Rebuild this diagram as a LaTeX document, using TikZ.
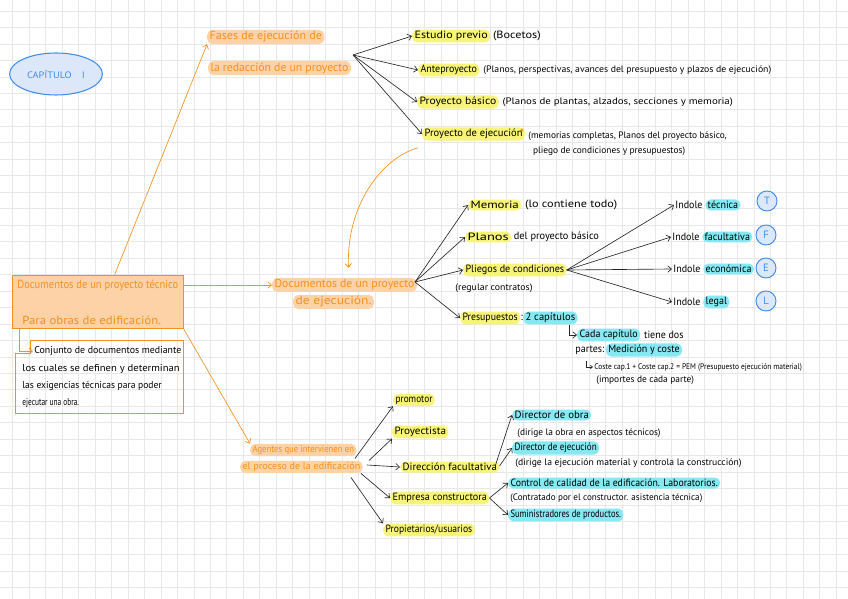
\documentclass[tikz,border=0pt]{standalone}
\usepackage{fontspec}
\setmainfont{PT Sans}
\usetikzlibrary{positioning,calc,shapes.geometric,arrows.meta}

\definecolor{gridgray}{HTML}{E8E8E8}
\definecolor{hlyellow}{HTML}{F8F47A}
\definecolor{hlcyan}{HTML}{86E8F2}
\definecolor{inkorange}{HTML}{F5901F}
\definecolor{hlorange}{HTML}{FDD2A6}
\definecolor{inkblue}{HTML}{3F8CEB}
\definecolor{fillblue}{HTML}{DCE8FA}

\newcommand\fsz[1]{\fontsize{#1}{#1}\selectfont}
\newcommand\mainsize{\fsz{9}}
\newcommand\notesize{\fsz{8}}
\newcommand\bigsize{\fsz{10}}
% horizontal stretch of handwritten-like labels
\newcommand\sx[2]{\scalebox{#1}[1]{#2}}

\tikzset{
  gridline/.style={gridgray, line width=0.6pt},
  hlbase/.style={rounded corners=4.5pt, inner xsep=2pt, inner ysep=1.4pt, anchor=west, font=\mainsize},
  yellowhl/.style={hlbase, fill=hlyellow},
  cyanhl/.style={hlbase, fill=hlcyan},
  orangehl/.style={hlbase, fill=hlorange, text=inkorange, font=\bigsize},
  plainlbl/.style={inner sep=1pt, anchor=west, font=\mainsize},
  notelbl/.style={inner sep=1pt, anchor=west, font=\notesize},
  desclbl/.style={inner sep=1pt, anchor=west, font=\fsz{8.5}},
  inkarrow/.style={-{Straight Barb[length=3.2pt,width=5.5pt]}, line width=0.55pt, black!85},
  orangearrow/.style={-{Straight Barb[length=3.2pt,width=5.5pt]}, line width=0.55pt, inkorange},
  lettercircle/.style={circle, draw=inkblue, fill=fillblue, line width=0.8pt, text=inkblue,
    minimum size=0.6cm, inner sep=0pt, font=\fontsize{9}{10}\selectfont},
  chapterellipse/.style={ellipse, draw=inkblue, fill=fillblue, line width=0.9pt, text=inkblue,
    minimum width=2.46cm, minimum height=1.26cm, font=\fontsize{8}{9}\selectfont}
}

\begin{document}
\begin{tikzpicture}[x=0.03cm,y=-0.03cm]
% paper and grid
\useasboundingbox (0,0) rectangle (848,599);
\fill[white] (0,0) rectangle (848,599);
\foreach \k in {0,...,50}
  \draw[gridline] ({12.7+16.47*\k},0) -- ({12.7+16.47*\k},599);
\foreach \k in {0,...,35}
  \draw[gridline] (0,{11+16.47*\k}) -- (848,{11+16.47*\k});

% Chapter title
\node[chapterellipse] (capitulo) at (56,74) {\sx{1.1}{CAPÍTULO\quad I}};

% Phases of the project
\node[orangehl] (fases) at (207,37) {\sx{1.03}{Fases de ejecución de}};
\node[orangehl] (redaccion) at (208,68) {la redacción de un proyecto};
\coordinate (fasesFan) at (353,55);

\node[yellowhl] (estudio) at (412,36) {\sx{1.14}{Estudio previo}};
\node[plainlbl, right=1pt of estudio] (estudioNote) {\sx{1.16}{(Bocetos)}};
\node[yellowhl] (antep) at (418,70) {\sx{0.95}{Anteproyecto}};
\node[notelbl, right=2pt of antep] (antepNote) {\sx{1.04}{(Planos, perspectivas, avances del presupuesto y plazos de ejecución)}};
\node[yellowhl] (basico) at (417,102) {\sx{1.1}{Proyecto básico}};
\node[notelbl, right=2pt of basico] (basicoNote) {\sx{1.16}{(Planos de plantas, alzados, secciones y memoria)}};
\node[yellowhl] (ejecucion) at (422,134) {Proyecto de ejecución};
\fill[inkorange] (522,130) circle (1.6);
\node[notelbl, anchor=north west, align=left, font=\fontsize{8}{13.5}\selectfont] (ejecNote) at (527,130)
  {(memorias completas, Planos del proyecto básico,\\\hspace*{4pt}pliego de condiciones y presupuestos)};

\draw[inkarrow] (fasesFan) -- (estudio.west);
\draw[inkarrow] (fasesFan) -- (antep.west);
\draw[inkarrow] (fasesFan) -- (basico.west);
\draw[inkarrow] (fasesFan) -- (ejecucion.west);

% Documents of a technical project
\node[draw=inkorange, fill=hlorange, line width=0.6pt, minimum width=5.13cm, minimum height=1.59cm,
  inner sep=0pt] (docTec) at (97.5,301.5) {};
\node[plainlbl, text=inkorange, font=\bigsize] (docTecA) at (16,285) {\sx{0.9}{Documentos de un proyecto técnico}};
\node[plainlbl, text=inkorange, font=\bigsize] (docTecB) at (21,320) {\sx{1.09}{Para obras de edificación.}};

\draw[orangearrow] ($(docTec.north west)!0.6!(docTec.north east)$) -- (fases.south west);

% Description
\draw[inkorange, line width=0.6pt] (30,340) -- (183,340) -- (183,413) -- (15,413) -- (15,353) -- (30,353) -- cycle;
\node[desclbl] (desc1) at (33,351) {\sx{0.99}{Conjunto de documentos mediante}};
\node[desclbl] (desc2) at (21,369) {\sx{1.07}{los cuales se definen y determinan}};
\node[desclbl] (desc3) at (21,386) {\sx{0.96}{las exigencias técnicas para poder}};
\node[desclbl] (desc4) at (21,403) {\sx{0.74}{ejecutar una obra.}};
\draw[orangearrow] ($(docTec.south west)+(8,0)$) |- (desc1.west);

% Documents of an execution project
\node[orangehl] (docEjecA) at (272,285) {Documentos de un proyecto};
\node[orangehl] (docEjecB) at (293,302) {\sx{1.16}{de ejecución.}};
\draw[orangearrow] (docTecA -| docTec.east) -- (docEjecA.west);
\draw[orangearrow] ($(ejecucion.south west)+(-4,7)$) .. controls (382,158) and (346,205) .. ($(docEjecA.north)+(4,-10)$);
\coordinate (docFan) at (415,282);

\node[yellowhl] (memoria) at (468,205) {\sx{1.22}{Memoria}};
\node[plainlbl, right=2pt of memoria] (memoriaNote) {\sx{1.16}{(lo contiene todo)}};
\node[yellowhl] (planos) at (465,237) {\sx{1.37}{Planos}};
\node[plainlbl, right=1pt of planos] (planosNote) {\sx{0.98}{del proyecto básico}};
\node[yellowhl] (pliegos) at (463,270) {\sx{0.96}{Pliegos de condiciones}};
\node[notelbl] (pliegosNote) at (454,288) {\sx{1.05}{(regular contratos)}};
\node[yellowhl] (presup) at (460,318) {\sx{0.93}{Presupuestos}};
\node[plainlbl, right=-1pt of presup] (presupColon) {:};
\node[cyanhl, right=-1pt of presupColon] (capitulos) {2 capítulos};

\draw[inkarrow] (docFan) -- (memoria.west);
\draw[inkarrow] (docFan) -- (planos.west);
\draw[inkarrow] (docFan) -- (pliegos.west);
\draw[inkarrow] (docFan) -- (presup.west);

% Kinds of conditions
\node[plainlbl] (indT) at (674,205) {\sx{0.95}{Indole}};
\node[cyanhl, right=1pt of indT] (tecnica) {\sx{0.95}{técnica}};
\node[plainlbl] (indF) at (671,237) {\sx{0.95}{Indole}};
\node[cyanhl, right=1pt of indF] (facultativa) {\sx{0.95}{facultativa}};
\node[plainlbl] (indE) at (672,269) {\sx{0.95}{Indole}};
\node[cyanhl, right=1pt of indE] (economica) {\sx{0.95}{económica}};
\node[plainlbl] (indL) at (672,302) {\sx{0.95}{Indole}};
\node[cyanhl, right=1pt of indL] (legal) {\sx{0.95}{legal}};

\node[lettercircle] (circT) at (767,201) {T};
\node[lettercircle] (circF) at (766,235) {F};
\node[lettercircle] (circE) at (766,268) {E};
\node[lettercircle] (circL) at (766,301) {L};

\draw[inkarrow] (pliegos.east) -- (indT.west);
\draw[inkarrow] (pliegos.east) -- (indF.west);
\draw[inkarrow] (pliegos.east) -- (indE.west);
\draw[inkarrow] (pliegos.east) -- (indL.west);

% Budget chapters
\node[cyanhl] (cadaCap) at (577,335) {\sx{0.95}{Cada capítulo}};
\node[plainlbl, right=2pt of cadaCap] (cadaNote) {\sx{0.95}{tiene dos}};
\node[plainlbl] (partes) at (574,350) {\sx{0.95}{partes:}};
\node[cyanhl, right=0pt of partes] (medicion) {\sx{0.95}{Medición y coste}};
\node[notelbl, font=\fsz{7}] (coste) at (593,367) {\sx{0.91}{Coste cap.1 + Coste cap.2 = PEM (Presupuesto ejecución material)}};
\node[notelbl] (importes) at (595,380) {(importes de cada parte)};
\draw[inkarrow] ($(capitulos.south east)+(-8,0)$) |- (cadaCap.west);
\draw[inkarrow, -{Straight Barb[length=2pt,width=3pt]}] ($(coste.west)+(-7,-6)$) |- (coste.west);

% Agents of the building process
\node[orangehl, font=\fsz{8.4}] (agentesA) at (250,450) {\sx{0.88}{Agentes que intervienen en}};
\node[orangehl, font=\fsz{8.4}] (agentesB) at (240,467) {\sx{1.03}{el proceso de la edificación}};
\draw[orangearrow] (docTec.south east) -- (agentesA.north west);

\node[yellowhl] (promotor) at (393,400) {\sx{0.88}{promotor}};
\node[yellowhl] (proyectista) at (392,432) {\sx{1.05}{Proyectista}};
\node[yellowhl] (direccion) at (400,467) {\sx{1.02}{Dirección facultativa}};
\node[yellowhl] (empresa) at (390,498) {\sx{0.97}{Empresa constructora}};
\node[yellowhl] (propietarios) at (383,530) {\sx{0.91}{Propietarios/usuarios}};

\draw[inkarrow] ($(agentesB.north east)+(-8,-2)$) -- (promotor.south west);
\draw[inkarrow] ($(agentesB.north east)+(6,0)$) -- (proyectista.south west);
\draw[inkarrow] ($(agentesB.east)+(4,-2)$) -- (direccion.west);
\draw[inkarrow] ($(agentesB.south east)+(-2,0)$) -- (empresa.west);
\draw[inkarrow] ($(agentesB.south east)+(-12,4)$) -- (propietarios.north west);

% Technical direction
\node[cyanhl] (dirObra) at (512,415) {\sx{1.02}{Director de obra}};
\node[notelbl] (dirObraNote) at (516,433) {(dirige la obra en aspectos técnicos)};
\node[cyanhl] (dirEjec) at (512,448) {\sx{0.86}{Director de ejecución}};
\node[notelbl] (dirEjecNote) at (514,463) {\sx{1.03}{(dirige la ejecución material y controla la construcción)}};
\draw[inkarrow] ($(direccion.east)+(-4,-2)$) -- (dirObra.west);
\draw[inkarrow] ($(direccion.east)+(0,-1)$) -- (dirEjec.west);

% Building company
\node[cyanhl] (control) at (508,483) {\sx{0.93}{Control de calidad de la edificación. Laboratorios.}};
\node[notelbl] (controlNote) at (509,498) {\sx{0.97}{(Contratado por el constructor. asistencia técnica)}};
\node[cyanhl] (suministro) at (508,515) {\sx{0.81}{Suministradores de productos.}};
\draw[inkarrow] (empresa.east) -- (control.west);
\draw[inkarrow] (empresa.east) -- (suministro.west);
\end{tikzpicture}
\end{document}
